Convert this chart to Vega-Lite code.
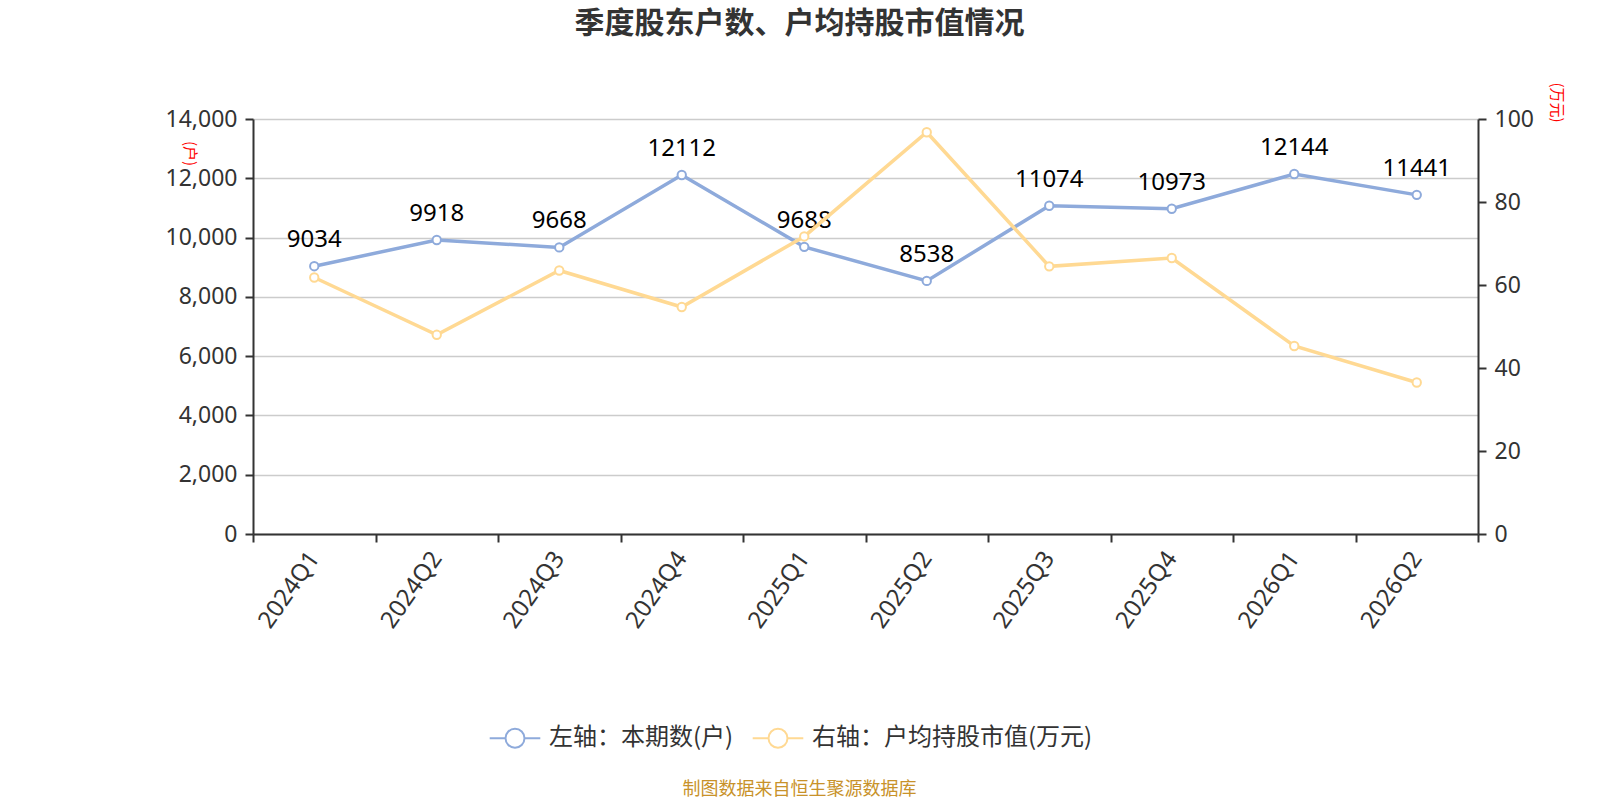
{
  "$schema": "https://vega.github.io/schema/vega-lite/v6.json",
  "autosize": {"type": "none"},
  "width": 1225,
  "height": 415,
  "padding": {"left": 253, "top": 119, "right": 122, "bottom": 266},
  "background": "white",
  "config": {
    "font": "Noto Sans CJK SC",
    "view": {"stroke": null}
  },
  "title": {
    "text": "季度股东户数、户均持股市值情况",
    "fontSize": 30,
    "fontWeight": "bold",
    "color": "#333333",
    "anchor": "middle",
    "dx": -66,
    "offset": 43
  },
  "data": {
    "values": [
      {"q": "2024Q1", "hh": 9034, "mv": 61.8},
      {"q": "2024Q2", "hh": 9918, "mv": 48.0},
      {"q": "2024Q3", "hh": 9668, "mv": 63.5},
      {"q": "2024Q4", "hh": 12112, "mv": 54.7},
      {"q": "2025Q1", "hh": 9688, "mv": 71.7},
      {"q": "2025Q2", "hh": 8538, "mv": 96.8},
      {"q": "2025Q3", "hh": 11074, "mv": 64.5},
      {"q": "2025Q4", "hh": 10973, "mv": 66.5},
      {"q": "2026Q1", "hh": 12144, "mv": 45.3},
      {"q": "2026Q2", "hh": 11441, "mv": 36.5}
    ]
  },
  "encoding": {
    "x": {
      "field": "q",
      "type": "nominal",
      "sort": null,
      "scale": {"type": "band", "paddingInner": 0, "paddingOuter": 0},
      "axis": {
        "title": "制图数据来自恒生聚源数据库",
        "titleColor": "#c8922a",
        "titleFontSize": 18,
        "titleFontWeight": "normal",
        "titleX": 546,
        "titleY": 246,
        "labelAngle": -55,
        "labelFontSize": 24,
        "labelColor": "#333333",
        "labelFont": "Noto Sans",
        "labelPadding": 12,
        "tickBand": "extent",
        "tickSize": 8,
        "tickColor": "#333333",
        "tickWidth": 2,
        "domainColor": "#333333",
        "domainWidth": 2,
        "grid": false
      }
    }
  },
  "layer": [
    {
      "layer": [
        {
          "mark": {"type": "line", "strokeWidth": 3.5, "point": {"filled": false, "fill": "white", "size": 70, "strokeWidth": 2}},
          "encoding": {
            "y": {
              "field": "hh",
              "type": "quantitative",
              "scale": {"domain": [0, 14000]},
              "axis": {
                "title": "(户)",
                "titleColor": "red",
                "titleFontSize": 15,
                "titleFontWeight": "normal",
                "titleAngle": 90,
                "titleX": -64,
                "titleY": 34,
                "titleAlign": "center",
                "titleBaseline": "middle",
                "values": [0, 2000, 4000, 6000, 8000, 10000, 12000, 14000],
                "labelOverlap": false,
                "labelFontSize": 23,
                "labelColor": "#333333",
                "labelFont": "Noto Sans",
                "labelPadding": 8,
                "tickSize": 8,
                "tickColor": "#333333",
                "tickWidth": 2,
                "domainColor": "#333333",
                "domainWidth": 2,
                "grid": true,
                "gridColor": "#cccccc",
                "gridWidth": 1.5
              }
            },
            "color": {
              "datum": "左轴：本期数(户)",
              "scale": {
                "domain": ["左轴：本期数(户)", "右轴：户均持股市值(万元)"],
                "range": ["#8eaadb", "#ffd993"]
              },
              "legend": {
                "title": null,
                "orient": "none",
                "direction": "horizontal",
                "legendX": 245,
                "legendY": 602,
                "labelFontSize": 24,
                "labelColor": "#333333",
                "labelLimit": 0,
                "symbolType": "M-1.6,0 L-0.6,0 M0.6,0 L1.6,0 M-0.6,0 A0.6,0.6 0 1,1 0.6,0 A0.6,0.6 0 1,1 -0.6,0 Z",
                "symbolSize": 1000,
                "symbolStrokeWidth": 2,
                "symbolFillColor": "white",
                "symbolOffset": 0,
                "columnPadding": 14,
                "labelOffset": 17
              }
            }
          }
        },
        {
          "mark": {"type": "text", "fontSize": 24, "color": "black", "baseline": "bottom", "dy": -14, "font": "Noto Sans"},
          "encoding": {
            "y": {"field": "hh", "type": "quantitative"},
            "text": {"field": "hh", "type": "quantitative", "format": "d"}
          }
        }
      ]
    },
    {
      "mark": {"type": "line", "strokeWidth": 3.5, "point": {"filled": false, "fill": "white", "size": 70, "strokeWidth": 2}},
      "encoding": {
        "y": {
          "field": "mv",
          "type": "quantitative",
          "scale": {"domain": [0, 100]},
          "axis": {
            "orient": "right",
            "title": "(万元)",
            "titleColor": "red",
            "titleFontSize": 15,
            "titleFontWeight": "normal",
            "titleAngle": 90,
            "titleX": 78,
            "titleY": -17,
            "titleAlign": "center",
            "titleBaseline": "middle",
            "values": [0, 20, 40, 60, 80, 100],
            "labelOverlap": false,
            "labelFontSize": 23,
            "labelColor": "#333333",
            "labelFont": "Noto Sans",
            "labelPadding": 8,
            "tickSize": 8,
            "tickColor": "#333333",
            "tickWidth": 2,
            "domainColor": "#333333",
            "domainWidth": 2,
            "grid": false
          }
        },
        "color": {"datum": "右轴：户均持股市值(万元)"}
      }
    }
  ],
  "resolve": {"scale": {"y": "independent"}}
}
